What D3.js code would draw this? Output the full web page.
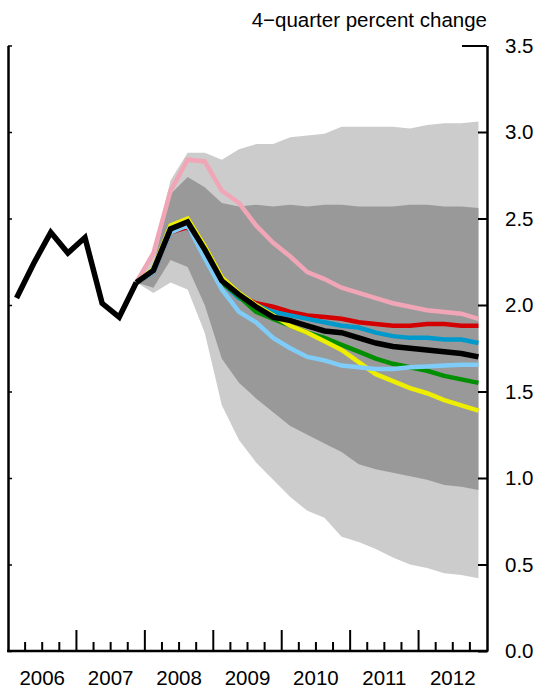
<!DOCTYPE html>
<html>
<head>
<meta charset="utf-8">
<script src="https://d3js.org/d3.v7.min.js"></script>
<style>
  body { margin: 0; background: #fff; }
  svg text { font-family: "Liberation Sans", Arial, sans-serif; fill: #000; }
</style>
</head>
<body>
<div id="chart"></div>
<script>
// quarters on the x axis
var quarters = ["2006Q1","2006Q2","2006Q3","2006Q4","2007Q1","2007Q2","2007Q3","2007Q4",
  "2008Q1","2008Q2","2008Q3","2008Q4","2009Q1","2009Q2","2009Q3","2009Q4",
  "2010Q1","2010Q2","2010Q3","2010Q4","2011Q1","2011Q2","2011Q3","2011Q4",
  "2012Q1","2012Q2","2012Q3","2012Q4"];
var years = ["2006","2007","2008","2009","2010","2011","2012"];
var yTicks = [0, 0.5, 1.0, 1.5, 2.0, 2.5, 3.0, 3.5];

// actual data (2006Q1 - 2007Q4)
var actual = [2.04, 2.24, 2.42, 2.30, 2.39, 2.01, 1.93, 2.13];

// forecasts start at 2007Q4
var fcQuarters = quarters.slice(7);
var baseline   = [2.13, 2.20, 2.44, 2.48, 2.32, 2.14, 2.06, 1.99, 1.93, 1.91, 1.88, 1.85, 1.84, 1.81, 1.78, 1.76, 1.75, 1.74, 1.73, 1.72, 1.70];
var pinkLine   = [2.13, 2.30, 2.66, 2.84, 2.83, 2.66, 2.59, 2.46, 2.36, 2.28, 2.19, 2.15, 2.10, 2.07, 2.04, 2.01, 1.99, 1.97, 1.96, 1.95, 1.92];
var redLine    = [2.13, 2.19, 2.42, 2.45, 2.31, 2.14, 2.05, 2.01, 1.99, 1.96, 1.94, 1.93, 1.92, 1.90, 1.89, 1.88, 1.88, 1.89, 1.89, 1.88, 1.88];
var blueLine   = [2.13, 2.19, 2.43, 2.46, 2.30, 2.13, 2.04, 2.00, 1.96, 1.94, 1.92, 1.90, 1.88, 1.87, 1.84, 1.82, 1.81, 1.81, 1.80, 1.80, 1.78];
var greenLine  = [2.13, 2.20, 2.44, 2.48, 2.32, 2.13, 2.05, 1.96, 1.92, 1.88, 1.84, 1.81, 1.77, 1.73, 1.69, 1.66, 1.64, 1.62, 1.59, 1.57, 1.55];
var yellowLine = [2.13, 2.21, 2.46, 2.50, 2.34, 2.16, 2.07, 2.00, 1.94, 1.88, 1.84, 1.79, 1.74, 1.67, 1.60, 1.56, 1.52, 1.49, 1.45, 1.42, 1.39];
var skyLine    = [2.13, 2.19, 2.42, 2.46, 2.27, 2.09, 1.96, 1.90, 1.81, 1.75, 1.70, 1.68, 1.65, 1.64, 1.63, 1.63, 1.64, 1.645, 1.65, 1.655, 1.655];

// confidence bands
var outerUpper = [2.13, 2.32, 2.72, 2.88, 2.88, 2.84, 2.90, 2.93, 2.93, 2.97, 2.98, 2.99, 3.03, 3.03, 3.03, 3.03, 3.02, 3.04, 3.05, 3.05, 3.06];
var innerUpper = [2.13, 2.23, 2.64, 2.74, 2.68, 2.59, 2.57, 2.58, 2.57, 2.58, 2.57, 2.58, 2.58, 2.57, 2.57, 2.57, 2.58, 2.58, 2.57, 2.57, 2.56];
var innerLower = [2.13, 2.10, 2.26, 2.22, 2.00, 1.69, 1.55, 1.46, 1.38, 1.30, 1.25, 1.20, 1.15, 1.08, 1.05, 1.03, 1.01, 0.99, 0.96, 0.95, 0.93];
var outerLower = [2.13, 2.07, 2.13, 2.09, 1.84, 1.42, 1.22, 1.09, 0.99, 0.89, 0.81, 0.77, 0.66, 0.63, 0.59, 0.54, 0.50, 0.48, 0.45, 0.44, 0.42];

var width = 538, height = 690;
var plotLeft = 8, plotRight = 487, plotTop = 45.5, plotBottom = 651;
var fontSize = "20.5px";

var svg = d3.select("#chart").append("svg")
  .attr("width", width)
  .attr("height", height);

var xBand = d3.scaleBand().domain(quarters).range([plotLeft, plotRight]);
var x = function(q){ return xBand(q) + xBand.bandwidth() / 2; };
var xYear = d3.scaleBand().domain(years).range([plotLeft, plotRight]);
var y = d3.scaleLinear().domain([0, 3.5]).range([plotBottom, plotTop]);

// bands
function band(lo, hi, color){
  var area = d3.area()
    .x(function(d, i){ return x(fcQuarters[i]); })
    .y0(function(d, i){ return y(lo[i]); })
    .y1(function(d, i){ return y(hi[i]); });
  svg.append("path").datum(fcQuarters).attr("d", area).attr("fill", color);
}
band(outerLower, outerUpper, "#cccccc");
band(innerLower, innerUpper, "#999999");

// lines
var line = d3.line()
  .x(function(d){ return x(d.q); })
  .y(function(d){ return y(d.v); });

function drawLine(qs, vals, color, w){
  var pts = vals.map(function(v, i){ return {q: qs[i], v: v}; });
  svg.append("path").datum(pts)
    .attr("d", line)
    .attr("fill", "none")
    .attr("stroke", color)
    .attr("stroke-width", w);
}
drawLine(fcQuarters, pinkLine, "#f0a6b7", 4.5);
drawLine(fcQuarters, redLine, "#d40000", 4.5);
drawLine(fcQuarters, blueLine, "#0099cc", 4.5);
drawLine(fcQuarters, greenLine, "#008f00", 4.5);
drawLine(fcQuarters, yellowLine, "#eeee00", 4.5);
drawLine(fcQuarters, skyLine, "#80ccf8", 4.5);
drawLine(fcQuarters, baseline, "#000000", 5.5);
drawLine(quarters.slice(0, 8), actual, "#000000", 5.5);

// right axis with labels
var rightAxis = svg.append("g")
  .attr("transform", "translate(" + plotRight + ",0)")
  .call(d3.axisRight(y).tickValues(yTicks).tickSize(-9).tickSizeOuter(0)
    .tickPadding(18).tickFormat(d3.format(".1f")));
rightAxis.select(".domain").attr("stroke-width", 2.5);
rightAxis.selectAll(".tick line").attr("stroke-width", 2);
rightAxis.selectAll(".tick line").filter(function(d){ return d === 3.5; }).attr("x2", -25);
rightAxis.selectAll("text").style("font-size", fontSize);

// left axis, ticks only
var leftAxis = svg.append("g")
  .attr("transform", "translate(" + plotLeft + ",0)")
  .call(d3.axisLeft(y).tickValues(yTicks).tickSize(-4).tickSizeOuter(0).tickFormat(""));
leftAxis.select(".domain").attr("stroke-width", 2.5);
leftAxis.selectAll(".tick line").attr("stroke-width", 1.5);

// bottom axis
svg.append("line")
  .attr("x1", plotLeft - 1).attr("x2", plotRight + 1)
  .attr("y1", plotBottom).attr("y2", plotBottom)
  .attr("stroke", "#000").attr("stroke-width", 2.5);

svg.selectAll(".qtick")
  .data(quarters.slice(1))
  .enter().append("line")
  .attr("class", "qtick")
  .attr("x1", function(q){ return xBand(q); })
  .attr("x2", function(q){ return xBand(q); })
  .attr("y1", plotBottom)
  .attr("y2", function(q){ return q.slice(4) === "Q1" ? plotBottom - 21 : plotBottom - 9; })
  .attr("stroke", "#000")
  .attr("stroke-width", 2);

svg.selectAll(".year")
  .data(years)
  .enter().append("text")
  .attr("class", "year")
  .attr("x", function(d){ return xYear(d) + xYear.bandwidth() / 2; })
  .attr("y", 685)
  .attr("text-anchor", "middle")
  .style("font-size", fontSize)
  .text(function(d){ return d; });

// units label
svg.append("text")
  .attr("x", plotRight)
  .attr("y", 27)
  .attr("text-anchor", "end")
  .style("font-size", fontSize)
  .text("4\u2212quarter percent change");
</script>
</body>
</html>
